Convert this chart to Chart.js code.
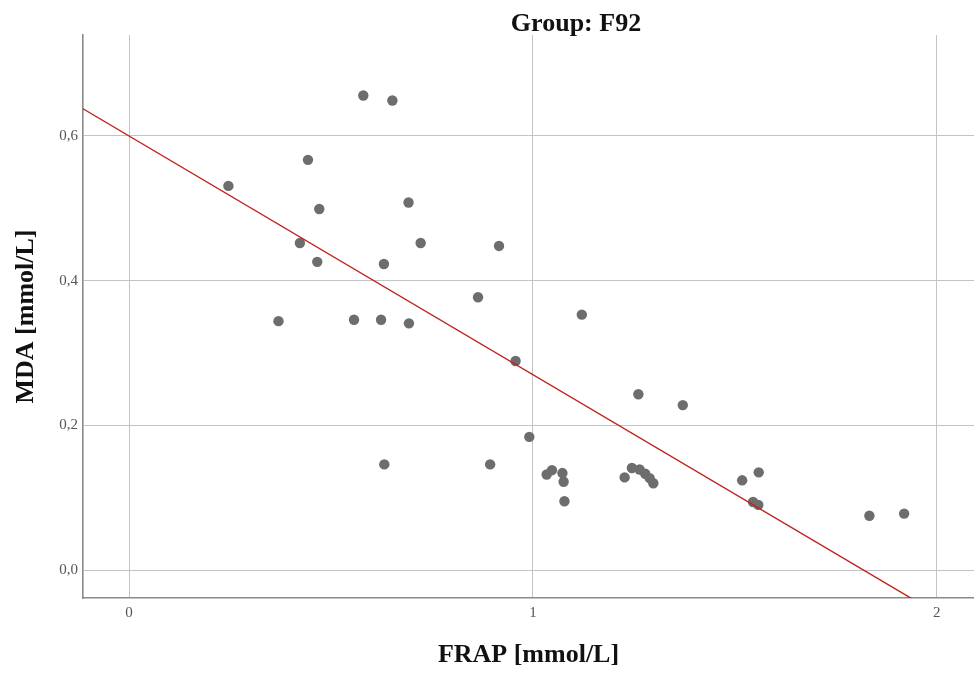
<!DOCTYPE html>
<html>
<head>
<meta charset="utf-8">
<script src="https://cdn.jsdelivr.net/npm/chart.js@4.4.1/dist/chart.umd.min.js"></script>
<style>
  html, body { margin: 0; padding: 0; background: #ffffff; }
  #wrap { width: 974px; height: 677px; position: relative; }
</style>
</head>
<body>
<div id="wrap"><canvas id="c" width="974" height="677"></canvas></div>
<script>
// ---- data ----
const chartTitle = "Group: F92";
const xAxisTitle = "FRAP [mmol/L]";
const yAxisTitle = "MDA [mmol/L]";

const frapValues = [0.580, 0.652, 0.443, 0.246, 0.471, 0.692, 0.423, 0.722, 0.916, 0.466,
                    0.631, 0.864, 0.370, 0.557, 0.624, 0.693, 0.632, 0.894, 1.121, 0.957,
                    1.261, 1.371, 0.991, 1.034, 1.047, 1.073, 1.076, 1.078, 1.227, 1.245,
                    1.264, 1.278, 1.289, 1.298, 1.518, 1.559, 1.545, 1.558, 1.833, 1.919];
const mdaValues  = [0.656, 0.649, 0.567, 0.531, 0.499, 0.508, 0.452, 0.452, 0.448, 0.426,
                    0.423, 0.377, 0.344, 0.346, 0.346, 0.341, 0.146, 0.146, 0.353, 0.289,
                    0.243, 0.228, 0.184, 0.132, 0.138, 0.134, 0.122, 0.095, 0.128, 0.141,
                    0.139, 0.133, 0.127, 0.120, 0.124, 0.135, 0.094, 0.090, 0.075, 0.078];

const fitIntercept = 0.600;
const fitSlope = -0.330;

const xTickValues = [0, 1, 2];
const yTickValues = [0.0, 0.2, 0.4, 0.6];

const xRange = [-0.114, 2.092];
const yRange = [-0.0387, 0.7396];

// ---- build datasets ----
const points = frapValues.map((v, i) => ({ x: v, y: mdaValues[i] }));
const fitLine = xRange.map(x => ({ x: x, y: fitIntercept + fitSlope * x }));

const titlePlugin = {
  id: 'groupTitle',
  afterDraw(chart) {
    const ctx = chart.ctx;
    ctx.save();
    ctx.font = 'bold 26px "Liberation Serif", "Times New Roman", serif';
    ctx.fillStyle = '#111111';
    ctx.textAlign = 'center';
    ctx.textBaseline = 'alphabetic';
    ctx.fillText(chartTitle, 576, 31);
    ctx.restore();
  }
};

const tickFont = { family: '"Liberation Serif", "Times New Roman", serif', size: 15 };
const axisTitleFont = { family: '"Liberation Serif", "Times New Roman", serif', size: 26, weight: 'bold', lineHeight: 1 };

new Chart(document.getElementById('c'), {
  data: {
    datasets: [
      {
        type: 'line',
        data: fitLine,
        borderColor: '#c0201a',
        borderWidth: 1.4,
        pointRadius: 0,
        fill: false,
        order: 0
      },
      {
        type: 'scatter',
        data: points,
        backgroundColor: '#6d6d6d',
        borderWidth: 0,
        pointRadius: 5.2,
        order: 1
      }
    ]
  },
  options: {
    responsive: false,
    animation: false,
    devicePixelRatio: 1,
    layout: { autoPadding: false, padding: { top: 35, right: 0, bottom: 0, left: 0 } },
    plugins: {
      legend: { display: false },
      tooltip: { enabled: false },
      title: { display: false }
    },
    scales: {
      x: {
        type: 'linear',
        min: xRange[0],
        max: xRange[1],
        afterBuildTicks(scale) { scale.ticks = xTickValues.map(v => ({ value: v })); },
        afterFit(scale) { scale.height = 79; scale.paddingLeft = 0; scale.paddingRight = 0; },
        grid: { color: '#c3c3c3', lineWidth: 1, drawTicks: false },
        border: { display: true, color: '#8a8a8a', width: 1.6 },
        ticks: {
          color: '#555555',
          font: tickFont,
          padding: 6,
          includeBounds: false,
          callback: v => String(v)
        },
        title: {
          display: true,
          text: xAxisTitle,
          color: '#111111',
          font: axisTitleFont,
          padding: { top: 0, bottom: 9 }
        }
      },
      y: {
        type: 'linear',
        min: yRange[0],
        max: yRange[1],
        afterBuildTicks(scale) { scale.ticks = yTickValues.map(v => ({ value: v })); },
        afterFit(scale) { scale.width = 83; scale.paddingTop = 0; scale.paddingBottom = 0; },
        grid: { color: '#c3c3c3', lineWidth: 1, drawTicks: false },
        border: { display: true, color: '#8a8a8a', width: 1.6 },
        ticks: {
          color: '#555555',
          font: tickFont,
          padding: 5,
          includeBounds: false,
          callback: v => Number(v).toFixed(1).replace('.', ',')
        },
        title: {
          display: true,
          text: yAxisTitle,
          color: '#111111',
          font: axisTitleFont,
          padding: { top: 13, bottom: 0 }
        }
      }
    }
  },
  plugins: [titlePlugin]
});
</script>
</body>
</html>
